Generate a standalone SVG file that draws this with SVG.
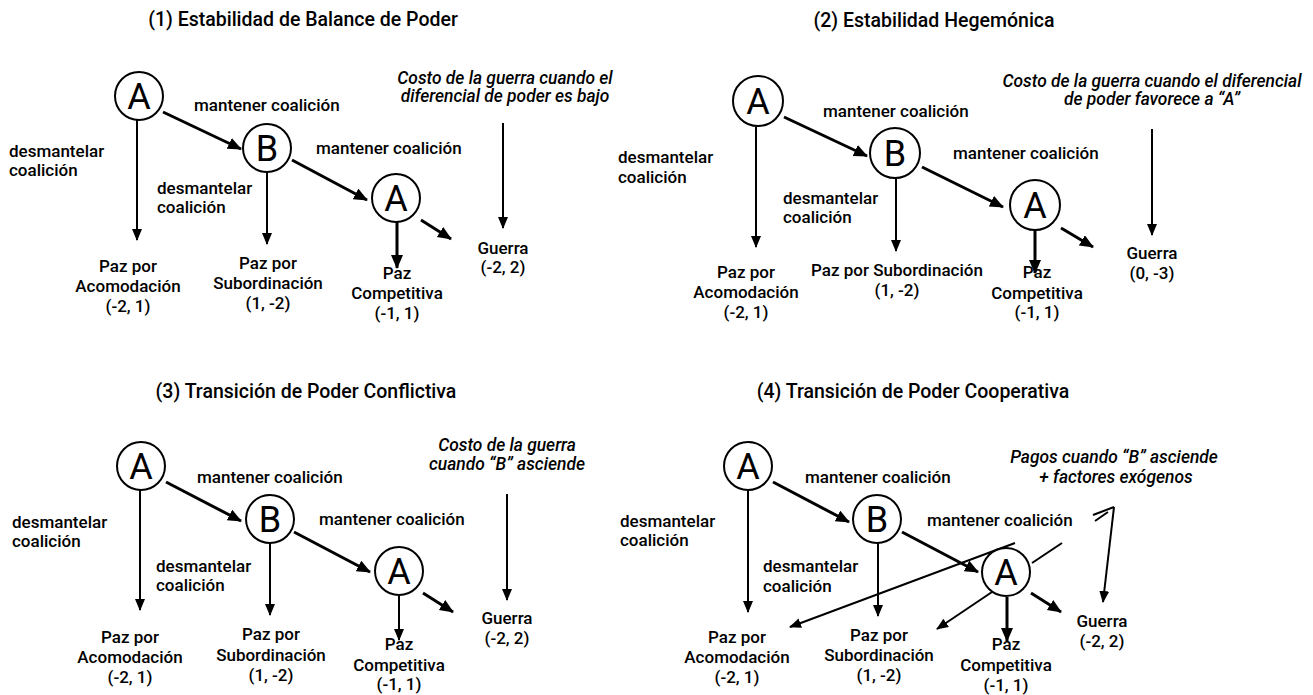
<svg xmlns="http://www.w3.org/2000/svg" width="1313" height="695" viewBox="0 0 1313 695">
<defs>
<style>
text{font-family:Roboto,"Liberation Sans",sans-serif;font-weight:500;fill:#000}
.t{font-size:19.5px;text-anchor:middle}
.l{font-size:17px}
.c{font-size:17px;text-anchor:middle}
.i{font-size:17.4px;font-style:italic;text-anchor:middle}
.n{font-size:36px;text-anchor:middle;font-weight:400}
circle{fill:#fff;stroke:#000;stroke-width:2}
.e line{stroke:#000;fill:none}
.k{stroke-width:3}
.h{stroke-width:2}
</style>
<marker id="ak" markerUnits="userSpaceOnUse" markerWidth="16" markerHeight="14" refX="13" refY="6" orient="auto"><path d="M0,0 L14,6 L0,12 z" fill="#000"/></marker>
<marker id="ah" markerUnits="userSpaceOnUse" markerWidth="14" markerHeight="12" refX="11" refY="5" orient="auto"><path d="M0,0 L12,5 L0,10 z" fill="#000"/></marker>
</defs>
<rect width="1313" height="695" fill="#fff"/>

<text class="t" x="303" y="26">(1) Estabilidad de Balance de Poder</text>
<text class="t" x="934" y="27">(2) Estabilidad Hegemónica</text>
<text class="t" x="306" y="398">(3) Transición de Poder Conflictiva</text>
<text class="t" x="913" y="398">(4) Transición de Poder Cooperativa</text>

<g class="e" id="connectors">
<!-- panel 1 -->
<line class="k" x1="163" y1="112" x2="241" y2="149" marker-end="url(#ak)"/>
<line class="h" x1="137" y1="120" x2="137" y2="240" marker-end="url(#ah)"/>
<line class="h" x1="267" y1="172" x2="267" y2="244" marker-end="url(#ah)"/>
<line class="k" x1="292" y1="160" x2="367" y2="200" marker-end="url(#ak)"/>
<line class="k" x1="397" y1="222" x2="397" y2="268" marker-end="url(#ak)"/>
<line class="k" x1="421" y1="220" x2="451" y2="239" marker-end="url(#ak)"/>
<line class="h" x1="503" y1="123" x2="503" y2="228" marker-end="url(#ah)"/>
<!-- panel 2 -->
<line class="k" x1="784" y1="117" x2="867" y2="156" marker-end="url(#ak)"/>
<line class="h" x1="756" y1="127" x2="756" y2="247" marker-end="url(#ah)"/>
<line class="h" x1="896" y1="178" x2="896" y2="251" marker-end="url(#ah)"/>
<line class="k" x1="922" y1="167" x2="1003" y2="207" marker-end="url(#ak)"/>
<line class="k" x1="1035" y1="231" x2="1035" y2="273" marker-end="url(#ak)"/>
<line class="k" x1="1061" y1="228" x2="1093" y2="247" marker-end="url(#ak)"/>
<line class="h" x1="1152" y1="129" x2="1152" y2="235" marker-end="url(#ah)"/>
<!-- panel 3 -->
<line class="k" x1="166" y1="482" x2="241" y2="521" marker-end="url(#ak)"/>
<line class="h" x1="140" y1="490" x2="140" y2="610" marker-end="url(#ah)"/>
<line class="h" x1="270" y1="543" x2="270" y2="615" marker-end="url(#ah)"/>
<line class="k" x1="294" y1="532" x2="370" y2="572" marker-end="url(#ak)"/>
<line class="h" x1="399" y1="596" x2="399" y2="640" marker-end="url(#ah)"/>
<line class="k" x1="423" y1="593" x2="453" y2="612" marker-end="url(#ak)"/>
<line class="h" x1="507" y1="494" x2="507" y2="600" marker-end="url(#ah)"/>
<!-- panel 4 -->
<line class="k" x1="773" y1="482" x2="849" y2="522" marker-end="url(#ak)"/>
<line class="h" x1="748" y1="491" x2="748" y2="612" marker-end="url(#ah)"/>
<line class="h" x1="878" y1="543" x2="878" y2="616" marker-end="url(#ah)"/>
<line class="k" x1="902" y1="532" x2="978" y2="572" marker-end="url(#ak)"/>
<line class="k" x1="1007" y1="597" x2="1007" y2="641" marker-end="url(#ak)"/>
<line class="k" x1="1031" y1="593" x2="1061" y2="612" marker-end="url(#ak)"/>
<line class="h" x1="992" y1="592" x2="937" y2="629" marker-end="url(#ah)"/>
<line class="h" x1="1015" y1="543" x2="790" y2="627" marker-end="url(#ah)"/>
<line class="h" x1="1032" y1="563" x2="1062" y2="543"/>
<line class="h" x1="1114" y1="507" x2="1103" y2="602" marker-end="url(#ah)"/>
<line class="h" x1="1114" y1="507" x2="1093" y2="515"/>
<line class="h" x1="1108" y1="512" x2="1095" y2="521"/>
</g>

<g id="p1-A1"><circle cx="139" cy="96" r="24"/><text class="n" x="139" y="109">A</text></g>
<g id="p1-B"><circle cx="267" cy="148" r="24"/><text class="n" x="267" y="161">B</text></g>
<g id="p1-A2"><circle cx="396" cy="198" r="24"/><text class="n" x="396" y="211">A</text></g>
<g id="p2-A1"><circle cx="758" cy="101" r="25"/><text class="n" x="758" y="114">A</text></g>
<g id="p2-B"><circle cx="895" cy="153" r="25"/><text class="n" x="895" y="166">B</text></g>
<g id="p2-A2"><circle cx="1035" cy="205" r="25"/><text class="n" x="1035" y="218">A</text></g>
<g id="p3-A1"><circle cx="141" cy="466" r="24"/><text class="n" x="141" y="479">A</text></g>
<g id="p3-B"><circle cx="270" cy="519" r="24"/><text class="n" x="270" y="532">B</text></g>
<g id="p3-A2"><circle cx="399" cy="571" r="24"/><text class="n" x="399" y="584">A</text></g>
<g id="p4-A1"><circle cx="748" cy="466" r="24"/><text class="n" x="748" y="479">A</text></g>
<g id="p4-B"><circle cx="877" cy="519" r="24"/><text class="n" x="877" y="532">B</text></g>
<g id="p4-A2"><circle cx="1006" cy="572" r="24"/><text class="n" x="1006" y="585">A</text></g>

<g id="labels">
<!-- panel 1 -->
<text class="l" x="194" y="111">mantener coalición</text>
<text class="l" x="316" y="154">mantener coalición</text>
<text class="l" x="9" y="157">desmantelar</text><text class="l" x="9" y="176">coalición</text>
<text class="l" x="157" y="194">desmantelar</text><text class="l" x="157" y="213">coalición</text>
<text class="c" x="128" y="272">Paz por</text><text class="c" x="128" y="292">Acomodación</text><text class="c" x="128" y="312">(-2, 1)</text>
<text class="c" x="268" y="269">Paz por</text><text class="c" x="268" y="289">Subordinación</text><text class="c" x="268" y="309">(1, -2)</text>
<text class="c" x="397" y="279">Paz</text><text class="c" x="397" y="299">Competitiva</text><text class="c" x="397" y="319">(-1, 1)</text>
<text class="c" x="503" y="254">Guerra</text><text class="c" x="503" y="273">(-2, 2)</text>
<text class="i" x="505" y="84">Costo de la guerra cuando el</text><text class="i" x="505" y="102">diferencial de poder es bajo</text>
<!-- panel 2 -->
<text class="l" x="823" y="117">mantener coalición</text>
<text class="l" x="953" y="159">mantener coalición</text>
<text class="l" x="618" y="163">desmantelar</text><text class="l" x="618" y="183">coalición</text>
<text class="l" x="783" y="204">desmantelar</text><text class="l" x="783" y="223">coalición</text>
<text class="c" x="746" y="278">Paz por</text><text class="c" x="746" y="298">Acomodación</text><text class="c" x="746" y="318">(-2, 1)</text>
<text class="c" x="897" y="276">Paz por Subordinación</text><text class="c" x="897" y="296">(1, -2)</text>
<text class="c" x="1037" y="278">Paz</text><text class="c" x="1037" y="299">Competitiva</text><text class="c" x="1037" y="318">(-1, 1)</text>
<text class="c" x="1152" y="259">Guerra</text><text class="c" x="1152" y="279">(0, -3)</text>
<text class="i" x="1152" y="87">Costo de la guerra cuando el diferencial</text><text class="i" x="1152" y="105">de poder favorece a “A”</text>
<!-- panel 3 -->
<text class="l" x="197" y="483">mantener coalición</text>
<text class="l" x="319" y="525">mantener coalición</text>
<text class="l" x="12" y="528">desmantelar</text><text class="l" x="12" y="547">coalición</text>
<text class="l" x="156" y="572">desmantelar</text><text class="l" x="156" y="591">coalición</text>
<text class="c" x="130" y="643">Paz por</text><text class="c" x="130" y="663">Acomodación</text><text class="c" x="130" y="683">(-2, 1)</text>
<text class="c" x="271" y="640">Paz por</text><text class="c" x="271" y="661">Subordinación</text><text class="c" x="271" y="681">(1, -2)</text>
<text class="c" x="399" y="650">Paz</text><text class="c" x="399" y="671">Competitiva</text><text class="c" x="399" y="690">(-1, 1)</text>
<text class="c" x="507" y="624">Guerra</text><text class="c" x="507" y="644">(-2, 2)</text>
<text class="i" x="507" y="451">Costo de la guerra</text><text class="i" x="507" y="470">cuando “B” asciende</text>
<!-- panel 4 -->
<text class="l" x="805" y="483">mantener coalición</text>
<text class="l" x="927" y="526">mantener coalición</text>
<text class="l" x="620" y="527">desmantelar</text><text class="l" x="620" y="546">coalición</text>
<text class="l" x="763" y="572">desmantelar</text><text class="l" x="763" y="592">coalición</text>
<text class="c" x="737" y="643">Paz por</text><text class="c" x="737" y="663">Acomodación</text><text class="c" x="737" y="683">(-2, 1)</text>
<text class="c" x="879" y="641">Paz por</text><text class="c" x="879" y="661">Subordinación</text><text class="c" x="879" y="681">(1, -2)</text>
<text class="c" x="1006" y="650">Paz</text><text class="c" x="1006" y="671">Competitiva</text><text class="c" x="1006" y="691">(-1, 1)</text>
<text class="c" x="1102" y="627">Guerra</text><text class="c" x="1102" y="647">(-2, 2)</text>
<text class="i" x="1114" y="463">Pagos cuando “B” asciende</text><text class="i" x="1116" y="483">+ factores exógenos</text>
</g>
</svg>
